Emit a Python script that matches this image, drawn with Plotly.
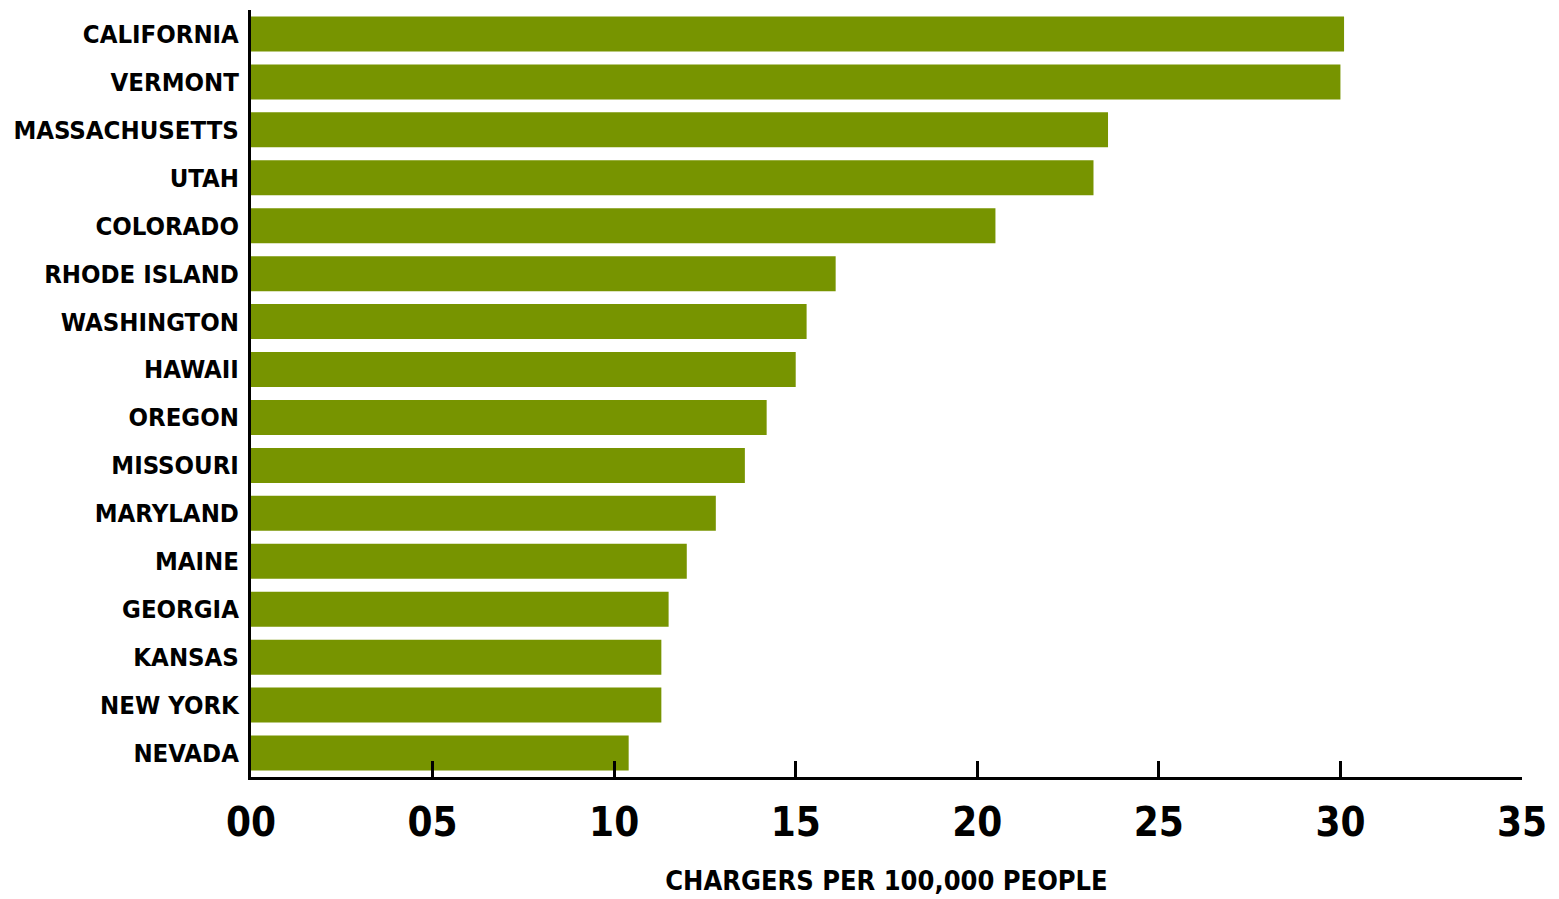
import plotly.graph_objects as go

states = ["CALIFORNIA", "VERMONT", "MASSACHUSETTS", "UTAH", "COLORADO", "RHODE ISLAND",
          "WASHINGTON", "HAWAII", "OREGON", "MISSOURI", "MARYLAND", "MAINE", "GEORGIA",
          "KANSAS", "NEW YORK", "NEVADA"]
chargers_per_100k = [30.1, 30.0, 23.6, 23.2, 20.5, 16.1, 15.3, 15.0, 14.2, 13.6, 12.8, 12.0,
                     11.5, 11.3, 11.3, 10.4]
tick_vals = [0, 5, 10, 15, 20, 25, 30, 35]
tick_text = ["00", "05", "10", "15", "20", "25", "30", "35"]

FONT = "DejaVu Sans Condensed, DejaVu Sans, sans-serif"

fig = go.Figure(go.Bar(
    x=chargers_per_100k,
    y=states,
    orientation="h",
    marker=dict(color="#779400", line=dict(width=0)),
    hoverinfo="x+y",
))

fig.update_layout(
    width=1559, height=899,
    margin=dict(l=251, r=37, t=10, b=122),
    paper_bgcolor="white", plot_bgcolor="white",
    bargap=0.27,
    showlegend=False,
    font=dict(family=FONT, color="black", weight="bold"),
)

fig.update_xaxes(
    range=[0, 35], automargin=False,
    tickvals=tick_vals, ticktext=tick_text,
    tickfont=dict(family=FONT, size=40, color="black", weight="bold"),
    ticks="inside", ticklen=16, tickwidth=2.5, tickcolor="black",
    showline=True, linecolor="black", linewidth=3,
    showgrid=False, zeroline=False,
    ticklabelstandoff=8,
    title=dict(text="CHARGERS PER 100,000 PEOPLE",
               font=dict(family=FONT, size=27, color="black", weight="bold"),
               standoff=28),
)

fig.update_yaxes(
    categoryorder="array", categoryarray=states, autorange="reversed", automargin=False,
    tickfont=dict(family=FONT, size=25.5, color="black", weight="bold"),
    ticks="", showline=True, linecolor="black", linewidth=3,
    showgrid=False, zeroline=False,
    ticklabelstandoff=4,
)

fig.write_html("out.html")
